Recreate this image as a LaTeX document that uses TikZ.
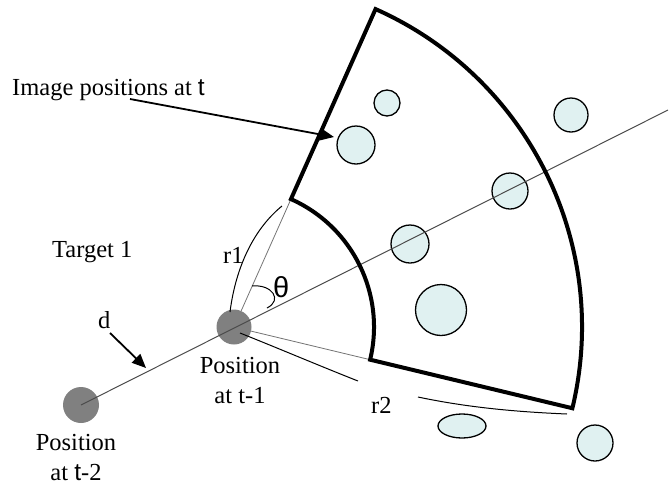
\documentclass[tikz,border=0pt]{standalone}
\usepackage{fontspec}
\setmainfont{Liberation Serif}
\newfontfamily\arialf{Liberation Sans}
\usetikzlibrary{arrows.meta,shapes.geometric,calc}
\definecolor{bubblefill}{RGB}{224,241,241}
\begin{document}
\begin{tikzpicture}[x=1pt,y=-1pt,
  lbl/.style={font=\fontsize{24.5}{30}\selectfont, inner sep=0pt, anchor=base west},
  lblc/.style={font=\fontsize{24.5}{30}\selectfont, inner sep=0pt, anchor=base, align=center},
  posdot/.style={circle, fill=black!50, draw=none, inner sep=0pt},
  bubble/.style={circle, draw=black, line width=1.3pt, fill=bubblefill, inner sep=0pt},
  thickline/.style={line width=4pt, line join=miter},
  thinline/.style={line width=0.8pt, black!55},
  axisline/.style={line width=1pt, black!70},
  arr/.style={line width=1.8pt, -{Triangle[length=14pt,width=12pt]}},
  brace/.style={line width=1pt}
]
\useasboundingbox (0,0) rectangle (669,485);
% bubbles
\node[bubble, minimum size=26pt] (b1) at (387,103) {};
\node[bubble, minimum size=38pt] (b2) at (356,145) {};
\node[bubble, minimum size=34pt] (b3) at (571,115) {};
\node[bubble, minimum size=36pt] (b4) at (510,191) {};
\node[bubble, minimum size=38pt] (b5) at (410,244) {};
\node[bubble, minimum size=51pt] (b6) at (441,310) {};
\node[bubble, ellipse, minimum width=48pt, minimum height=24pt] (b7) at (462,426) {};
\node[bubble, minimum size=36pt] (b8) at (595,443) {};
% positions
\node[posdot, minimum size=35pt] (p1) at (234,327) {};
\node[posdot, minimum size=36pt] (p2) at (81,405) {};
\coordinate (axisend) at (668,110);
% sector corners
\coordinate (c) at (234,327);
\coordinate (it) at ($(c)+(-66:140)$);
\coordinate (ib) at ($(c)+(13.5:140)$);
\coordinate (ot) at ($(c)+(-66:348)$);
\coordinate (ob) at ($(c)+(13.5:348)$);
% thin lines
\draw[thinline] (p1) -- (it);
\draw[thinline] (p1) -- (ib);
\draw[axisline] (p2.center) -- (axisend);
% sector
\draw[thickline] (it) -- (ot) arc[start angle=-66, end angle=13.5, radius=348]
  -- (ib) arc[start angle=13.5, end angle=-66, radius=140] -- cycle;
% labels
\node[lbl] (imgl) at (12,95) {Image positions at {\arialf t}};
\coordinate (imgs) at (130,99);
\coordinate (imge) at (334,137);
\draw[arr] (imgs) -- (imge);
\node[lbl] (tgt) at (52,257) {Target 1};
\node[lbl] (r1) at (223,263) {r1};
\node[lbl, font=\arialf\fontsize{29}{30}\selectfont] (th) at (273,297) {θ};
\node[lbl] (dl) at (98,328) {d};
\coordinate (ds) at (110,333);
\coordinate (de) at (146,368);
\draw[arr] (ds) -- (de);
\node[lblc] (pos1) at (240,403) {Position\\at t-1};
\node[lblc] (pos2) at (76,480) {Position\\at {\arialf t}-2};
\node[lbl] (r2) at (371,413) {r2};
% r1 brace
\coordinate (r1a) at (230,312);
\coordinate (r1b) at (282,206);
\draw[brace] (r1a) .. controls (236,265) and (255,228) .. (r1b);
% theta arc
\coordinate (tha) at (252,286);
\coordinate (thb) at (267,308);
\draw[brace] (tha) .. controls (272,284) and (283,300) .. (thb);
% r2 brace
\coordinate (r2a) at (240,333);
\coordinate (r2b) at (358,381);
\coordinate (r2c) at (418,397);
\coordinate (r2d) at (567,414);
\draw[brace] (r2a) .. controls (280,349) and (320,366) .. (r2b);
\draw[brace] (r2c) .. controls (470,408) and (520,412) .. (r2d);
\end{tikzpicture}
\end{document}
